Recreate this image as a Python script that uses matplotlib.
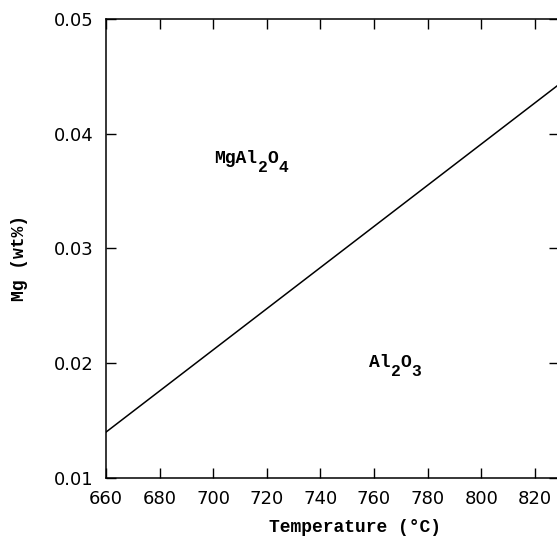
import matplotlib
matplotlib.use("Agg")
import matplotlib.pyplot as plt
from matplotlib.transforms import offset_copy

# phase boundary
temperature = [660, 829]
mg_wt = [0.0140, 0.0443]
x_ticks = [660, 680, 700, 720, 740, 760, 780, 800, 820]
y_ticks = [0.01, 0.02, 0.03, 0.04, 0.05]
# formulas as (text, subscript?) pieces
spinel = [("MgAl", False), ("2", True), ("O", False), ("4", True)]
alumina = [("Al", False), ("2", True), ("O", False), ("3", True)]
label_xy = [(700.5, 0.03745), (758.2, 0.01967)]

fig = plt.figure(figsize=(5.57, 5.5), dpi=100)
ax = fig.add_axes([106 / 557, 72 / 550, 453 / 557, 459 / 550])

ax.plot(temperature, mg_wt, color="black", linewidth=1.1)

size = 13
for parts, (x, y) in zip([spinel, alumina], label_xy):
    dx = 0.0
    for s, sub in parts:
        fs = size * 0.9 if sub else size
        tr = offset_copy(ax.transData, fig=fig, x=dx, y=-6.5 if sub else 0, units="points")
        ax.text(x, y, s, transform=tr, fontsize=fs, family="Liberation Mono",
                weight="bold", va="baseline", ha="left")
        dx += 0.6 * fs * len(s)

ax.set_xlim(660, 829)
ax.set_ylim(0.01, 0.05)
ax.set_xticks(x_ticks)
ax.set_yticks(y_ticks)
ax.set_yticklabels(["%.2f" % v for v in y_ticks])
ax.tick_params(direction="in", length=7, width=1, top=True, right=True,
               labelsize=13, pad=9)
for s in ax.spines.values():
    s.set_linewidth(1.1)

ax.set_xlabel("Temperature (°C)", family="Liberation Mono", weight="bold", fontsize=13)
ax.set_ylabel("Mg (wt%)", family="Liberation Mono", weight="bold", fontsize=13)
ax.xaxis.set_label_coords(0.55, -0.090)
ax.yaxis.set_label_coords(-0.172, 0.479)

fig.savefig("out.png", dpi=100)
